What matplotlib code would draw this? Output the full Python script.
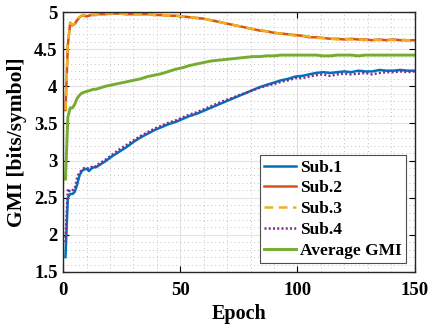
import matplotlib
matplotlib.use("Agg")
import matplotlib.pyplot as plt
from matplotlib.ticker import MultipleLocator

epochs = list(range(1, 15)) + list(range(15, 151, 3))

sub1 = [1.70, 2.50, 2.55, 2.55, 2.58, 2.68, 2.80, 2.86, 2.88, 2.89, 2.86, 2.89, 2.91, 2.91,
        2.93, 2.99, 3.06, 3.12, 3.18, 3.25, 3.31, 3.36, 3.41, 3.45, 3.49, 3.52, 3.56, 3.60,
        3.63, 3.67, 3.71, 3.75, 3.79, 3.83, 3.87, 3.91, 3.95, 3.99, 4.02, 4.05, 4.08, 4.10,
        4.13, 4.14, 4.16, 4.18, 4.19, 4.18, 4.19, 4.20, 4.19, 4.21, 4.20, 4.20, 4.22, 4.21,
        4.21, 4.22, 4.21, 4.21]
sub2 = [3.68, 4.55, 4.85, 4.82, 4.84, 4.89, 4.93, 4.95, 4.95, 4.94, 4.95, 4.96, 4.96, 4.96,
        4.97, 4.97, 4.98, 4.98, 4.97, 4.97, 4.97, 4.97, 4.96, 4.96, 4.95, 4.95, 4.94, 4.93,
        4.92, 4.91, 4.89, 4.87, 4.85, 4.83, 4.81, 4.79, 4.77, 4.75, 4.74, 4.72, 4.71, 4.70,
        4.69, 4.68, 4.66, 4.66, 4.65, 4.64, 4.64, 4.63, 4.64, 4.63, 4.63, 4.62, 4.63, 4.62,
        4.63, 4.62, 4.62, 4.62]
sub3 = [3.68, 4.56, 4.86, 4.83, 4.84, 4.90, 4.93, 4.95, 4.96, 4.95, 4.95, 4.96, 4.97, 4.96,
        4.97, 4.98, 4.98, 4.98, 4.97, 4.97, 4.97, 4.97, 4.96, 4.96, 4.95, 4.95, 4.94, 4.93,
        4.92, 4.91, 4.89, 4.87, 4.85, 4.83, 4.81, 4.79, 4.77, 4.76, 4.74, 4.72, 4.71, 4.70,
        4.68, 4.68, 4.67, 4.65, 4.65, 4.64, 4.63, 4.64, 4.63, 4.63, 4.62, 4.63, 4.62, 4.63,
        4.62, 4.63, 4.62, 4.62]
sub4 = [1.90, 2.62, 2.58, 2.60, 2.62, 2.78, 2.84, 2.87, 2.90, 2.90, 2.89, 2.91, 2.93, 2.92,
        2.95, 3.01, 3.08, 3.15, 3.21, 3.27, 3.33, 3.38, 3.43, 3.47, 3.51, 3.54, 3.58, 3.62,
        3.65, 3.69, 3.73, 3.77, 3.81, 3.84, 3.88, 3.91, 3.95, 3.98, 4.01, 4.03, 4.06, 4.08,
        4.11, 4.11, 4.13, 4.15, 4.16, 4.14, 4.16, 4.17, 4.16, 4.17, 4.18, 4.16, 4.18, 4.19,
        4.19, 4.20, 4.19, 4.20]
avg = [2.75, 3.58, 3.71, 3.71, 3.76, 3.84, 3.88, 3.91, 3.92, 3.93, 3.94, 3.95, 3.96, 3.96,
       3.97, 4.00, 4.02, 4.04, 4.06, 4.08, 4.10, 4.13, 4.15, 4.17, 4.20, 4.23, 4.25, 4.28,
       4.30, 4.32, 4.34, 4.35, 4.36, 4.37, 4.38, 4.39, 4.40, 4.40, 4.41, 4.41, 4.42, 4.42,
       4.42, 4.42, 4.42, 4.42, 4.41, 4.41, 4.42, 4.42, 4.42, 4.41, 4.42, 4.42, 4.42, 4.42,
       4.42, 4.42, 4.42, 4.42]

labels = ["Sub.1", "Sub.2", "Sub.3", "Sub.4", "Average GMI"]
x_ticks = [0, 50, 100, 150]
y_ticks = [1.5, 2, 2.5, 3, 3.5, 4, 4.5, 5]
y_tick_labels = ["1.5", "2", "2.5", "3", "3.5", "4", "4.5", "5"]

plt.rcParams['font.family'] = ['Liberation Serif', 'DejaVu Serif']
plt.rcParams['font.weight'] = 'bold'

fig = plt.figure(figsize=(4.28, 3.29), dpi=100)
ax = fig.add_axes([0.1475, 0.1733, 0.8210, 0.7902])

ax.plot(epochs, sub1, color='#0072BD', lw=1.8, label=labels[0])
ax.plot(epochs, sub2, color='#D95319', lw=1.8, label=labels[1])
ax.plot(epochs, sub3, color='#EDB120', lw=1.8, ls=(0, (3.5, 2.2)), label=labels[2])
ax.plot(epochs, sub4, color='#7E2F8E', lw=1.8, ls=(0, (0.8, 0.9)), label=labels[3])
ax.plot(epochs, avg, color='#77AC30', lw=2.1, label=labels[4])

ax.set_xlim(0, 150)
ax.set_ylim(1.5, 5)
ax.set_xticks(x_ticks)
ax.set_yticks(y_ticks)
ax.set_yticklabels(y_tick_labels)
ax.xaxis.set_minor_locator(MultipleLocator(10))
ax.yaxis.set_minor_locator(MultipleLocator(0.1))
ax.grid(True, which='major', color='#e3e3e3', lw=0.8, ls='-')
ax.grid(True, which='minor', color='#c4c4c4', lw=0.7, ls=(0, (1, 3)))
ax.set_axisbelow(True)

ax.tick_params(which='both', direction='in', top=True, right=True, labelsize=13.5,
               width=0.8)
ax.tick_params(axis='x', pad=7)
ax.tick_params(axis='y', pad=4)
ax.tick_params(which='major', length=4)
ax.tick_params(which='minor', length=0)
for s in ax.spines.values():
    s.set_linewidth(1.0)
    s.set_color('#262626')

ax.set_xlabel("Epoch", fontsize=14.5, fontweight='bold', labelpad=4)
ax.set_ylabel("GMI [bits/symbol]", fontsize=15.5, fontweight='bold', labelpad=5)

leg = ax.legend(loc='lower right', fontsize=12.5, frameon=True, fancybox=False,
                edgecolor='#4d4d4d', framealpha=1, handlelength=1.85, handletextpad=0.2,
                borderpad=0.25, labelspacing=0.27, borderaxespad=0.5)
leg.get_frame().set_linewidth(0.8)
for t in leg.get_texts():
    t.set_fontweight('bold')

fig.savefig("out.png", dpi=100)
